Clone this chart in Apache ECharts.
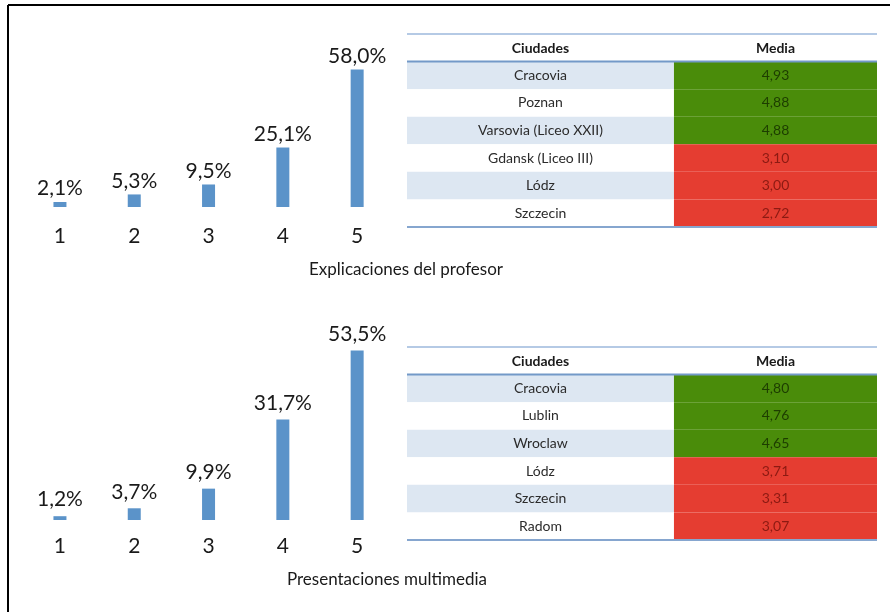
<!DOCTYPE html>
<html>
<head>
<meta charset="utf-8">
<script src="https://cdn.jsdelivr.net/npm/echarts@6/dist/echarts.min.js"></script>
<style>
  html, body { margin: 0; padding: 0; background: #fff; }
  #chart { width: 890px; height: 612px; }
</style>
</head>
<body>
<div id="chart"></div>
<script>
// datos
const escala = ["1", "2", "3", "4", "5"];
const explicaciones = [2.1, 5.3, 9.5, 25.1, 58.0];
const multimedia = [1.2, 3.7, 9.9, 31.7, 53.5];

const cabecera = ["Ciudades", "Media"];
const ciudades1 = ["Cracovia", "Poznan", "Varsovia (Liceo XXII)", "Gdansk (Liceo III)", "Lódz", "Szczecin"];
const media1 = [4.93, 4.88, 4.88, 3.10, 3.00, 2.72];
const ciudades2 = ["Cracovia", "Lublin", "Wroclaw", "Lódz", "Szczecin", "Radom"];
const media2 = [4.80, 4.76, 4.65, 3.71, 3.31, 3.07];

const FONT = "Lato, 'Open Sans', sans-serif";
const COL_SPLIT = 0.568; // donde empieza la columna Media

function coma(v, d) {
  return v.toFixed(d).replace(".", ",");
}

// dibuja una tabla (cabecera + filas) sobre un grid con eje de categorías
function tablaRender(medias) {
  return function (params, api) {
    const idx = api.value(1);
    const cs = params.coordSys;
    const yc = api.coord([0, idx])[1];
    const h = api.size([0, 1])[1];
    const top = yc - h / 2;
    const split = cs.x + cs.width * COL_SPLIT;
    const right = cs.x + cs.width;
    const children = [];

    if (idx === 0) {
      children.push(
        { type: "text", style: { x: (cs.x + split) / 2, y: yc + 1, text: cabecera[0], align: "center", verticalAlign: "middle", font: "bold 14px " + FONT, fill: "#1a1a1a" } },
        { type: "text", style: { x: (split + right) / 2, y: yc + 1, text: cabecera[1], align: "center", verticalAlign: "middle", font: "bold 14px " + FONT, fill: "#1a1a1a" } },
        { type: "line", shape: { x1: cs.x, y1: top, x2: right, y2: top }, style: { stroke: "#9db9dc", lineWidth: 1.5 } }
      );
      return { type: "group", children: children };
    }

    const v = medias[idx - 1];
    const bueno = v >= 4;
    children.push(
      { type: "rect", shape: { x: cs.x, y: top, width: split - cs.x, height: h }, style: { fill: idx % 2 === 1 ? "#dde7f2" : "#ffffff" } },
      { type: "rect", shape: { x: split, y: top, width: right - split, height: h }, style: { fill: bueno ? "#4a8c0a" : "#e53d31" } },
      { type: "text", style: { x: (cs.x + split) / 2, y: yc, text: api.value(2), align: "center", verticalAlign: "middle", font: "14px " + FONT, fill: "#2b2b2b" } },
      { type: "text", style: { x: (split + right) / 2, y: yc, text: coma(v, 2), align: "center", verticalAlign: "middle", font: "14px " + FONT, fill: bueno ? "#1d3d00" : "#8c1a12" } }
    );
    if (idx === 1) {
      children.push({ type: "line", shape: { x1: cs.x, y1: top, x2: right, y2: top }, style: { stroke: "#7399c8", lineWidth: 2 } });
    }
    if (idx === medias.length) {
      children.push({ type: "line", shape: { x1: cs.x, y1: top + h, x2: right, y2: top + h }, style: { stroke: "#86a6cf", lineWidth: 2 } });
    }
    return { type: "group", children: children };
  };
}

function filas(ciudades) {
  const out = [{ value: [0, 0, cabecera[0]] }];
  ciudades.forEach((c, i) => out.push({ value: [0, i + 1, c] }));
  return out;
}

function barras(datos, xi, dist) {
  return {
    type: "bar",
    xAxisIndex: xi,
    yAxisIndex: xi,
    data: datos,
    barWidth: 13,
    itemStyle: { color: "#5b93c9" },
    label: {
      show: true,
      position: "top",
      distance: dist,
      fontFamily: FONT,
      fontSize: 21,
      color: "#1a1a1a",
      formatter: (p) => coma(p.value, 1) + "%"
    }
  };
}

const chart = echarts.init(document.getElementById("chart"));

const option = {
  backgroundColor: "#ffffff",
  animation: false,
  grid: [
    { left: 22.8, width: 371.5, top: 64.8, height: 142.2 },
    { left: 22.8, width: 371.5, top: 330, height: 190 },
    { left: 407, width: 470, top: 34, height: 193 },
    { left: 407, width: 470, top: 347, height: 193 }
  ],
  xAxis: [
    { gridIndex: 0, type: "category", data: escala, axisLine: { show: false }, axisTick: { show: false },
      axisLabel: { margin: 19, fontFamily: FONT, fontSize: 21, color: "#1a1a1a" } },
    { gridIndex: 1, type: "category", data: escala, axisLine: { show: false }, axisTick: { show: false },
      axisLabel: { margin: 16, fontFamily: FONT, fontSize: 21, color: "#1a1a1a" } },
    { gridIndex: 2, type: "value", min: 0, max: 1, show: false },
    { gridIndex: 3, type: "value", min: 0, max: 1, show: false }
  ],
  yAxis: [
    { gridIndex: 0, type: "value", min: 0, max: 60, show: false },
    { gridIndex: 1, type: "value", min: 0, max: 60, show: false },
    { gridIndex: 2, type: "category", inverse: true, show: false, data: [cabecera[0]].concat(ciudades1) },
    { gridIndex: 3, type: "category", inverse: true, show: false, data: [cabecera[0]].concat(ciudades2) }
  ],
  series: [
    barras(explicaciones, 0, 3),
    barras(multimedia, 1, 6),
    { type: "custom", xAxisIndex: 2, yAxisIndex: 2, renderItem: tablaRender(media1), data: filas(ciudades1) },
    { type: "custom", xAxisIndex: 3, yAxisIndex: 3, renderItem: tablaRender(media2), data: filas(ciudades2) }
  ],
  graphic: [
    { type: "line", shape: { x1: 8, y1: 5, x2: 890, y2: 5 }, style: { stroke: "#000", lineWidth: 2 } },
    { type: "line", shape: { x1: 8, y1: 5, x2: 8, y2: 612 }, style: { stroke: "#000", lineWidth: 2 } },
    { type: "text", x: 406, y: 270, style: { text: "Explicaciones del profesor", align: "center", verticalAlign: "middle", font: "17px " + FONT, fill: "#1a1a1a" } },
    { type: "text", x: 387, y: 580, style: { text: "Presentaciones multimedia", align: "center", verticalAlign: "middle", font: "17px " + FONT, fill: "#1a1a1a" } }
  ]
};

chart.setOption(option);
window.addEventListener("resize", () => {
  chart.resize();
});
</script>
</body>
</html>
